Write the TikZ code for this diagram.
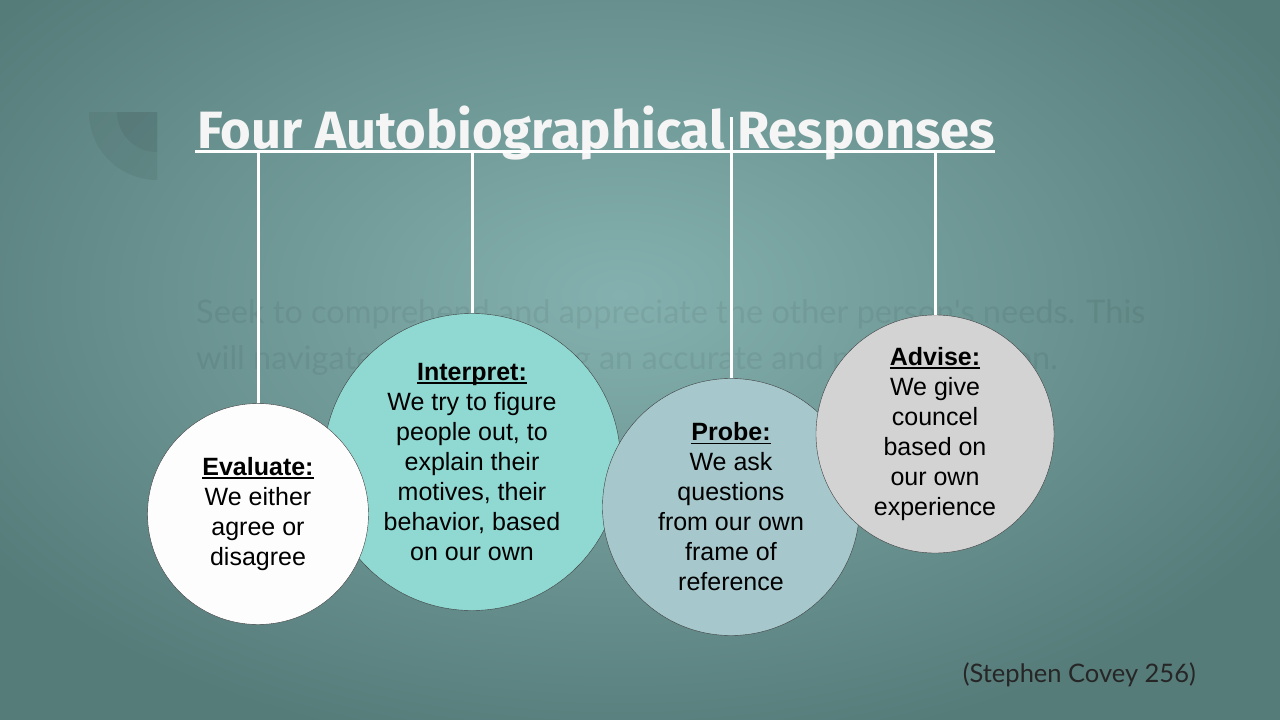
\documentclass[tikz,border=0pt]{standalone}
\usepackage{fontspec}
\setmainfont{Liberation Sans}
\newfontfamily\titlefont{Fira Sans}
\newfontfamily\notefont{Lato}
\definecolor{SlideInner}{RGB}{132,177,175}
\definecolor{SlideOuter}{RGB}{86,124,122}
\definecolor{EvalFill}{RGB}{253,253,253}
\definecolor{InterpFill}{RGB}{143,217,210}
\definecolor{ProbeFill}{RGB}{166,200,204}
\definecolor{AdviseFill}{RGB}{211,211,211}
\usetikzlibrary{positioning}
\newcommand{\bubblehead}[1]{\setbox0\hbox{\textbf{#1}}\rlap{\rule[-3.5pt]{\wd0}{1.8pt}}\box0}

\begin{document}
\begin{tikzpicture}[x=1pt, y=-1pt, every node/.style={align=center, font=\fontsize{25}{30}\selectfont},
  bubble/.style={draw=black!75, circle, inner sep=0pt, text=black},
  hanger/.style={draw=white, line width=3pt}]
\useasboundingbox (0,0) rectangle (1280,720);
\shade[inner color=SlideInner, outer color=SlideOuter] (-150,-170) rectangle (1390,760);
\fill[black, opacity=.05] (157,112) -- (89,112) arc[start angle=180, end angle=90, radius=68] -- cycle;
\fill[black, opacity=.05] (157,112) -- (117,112) arc[start angle=180, end angle=90, radius=40] -- cycle;
\node[anchor=north west, align=left, inner sep=0pt, font=\notefont\fontsize{32.5}{46}\selectfont, text=black, text opacity=.06] (ghost) at (196,299) {Seek to comprehend and appreciate the other person's needs. This\\will navigate in approaching an accurate and proper solution.};
\node[anchor=base west, inner sep=0pt, font=\titlefont\bfseries\fontsize{52.5}{60}\selectfont, text=white!96!black] (title) at (197,148) {Four Autobiographical Responses};
\draw[white, line width=3pt] ([xshift=-2pt, yshift=-3pt]title.base west) -- ([yshift=-3pt]title.base east);
\node[bubble, fill=InterpFill, minimum size=297pt] (interp) at (472,462) {\bubblehead{Interpret:}\\We try to figure\\people out, to\\explain their\\motives, their\\behavior, based\\on our own};
\node[bubble, fill=EvalFill, minimum size=221pt] (eval) at (258,514) {\bubblehead{Evaluate:}\\We either\\agree or\\disagree};
\node[bubble, fill=ProbeFill, minimum size=257pt] (probe) at (731,507) {\bubblehead{Probe:}\\We ask\\questions\\from our own\\frame of\\reference};
\node[bubble, fill=AdviseFill, minimum size=238pt] (advise) at (935,434) {\bubblehead{Advise:}\\We give\\councel\\based on\\our own\\experience};
\coordinate (evalHook) at (258,151);
\coordinate (interpHook) at (472,151);
\coordinate (probeHook) at (731,117);
\coordinate (adviseHook) at (935,151);
\draw[hanger] (evalHook) -- (eval.north);
\draw[hanger] (interpHook) -- (interp.north);
\draw[hanger] (probeHook) -- (probe.north);
\draw[hanger] (adviseHook) -- (advise.north);
\node[anchor=base east, inner sep=0pt, font=\notefont\fontsize{25.5}{30}\selectfont, text=black!85] (cite) at (1196,682) {(Stephen Covey 256)};
\end{tikzpicture}
\end{document}
